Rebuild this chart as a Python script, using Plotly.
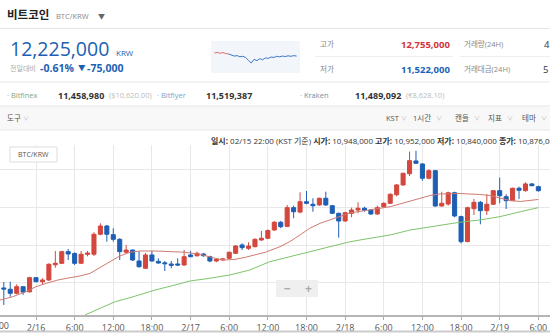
import plotly.graph_objects as go

W, H = 550, 333
FONT = "Open Sans, Noto Sans CJK KR, sans-serif"
RED = "#d4473d"
BLUE = "#1d5fb4"

# ---------------- data ----------------
# hourly candles, hour offset from 2/16 00:00 (KST)
hours = list(range(-5, 79))
opens = [10931000, 10914000, 10860000, 10948000, 10880000, 11068000, 11015000, 11037000, 11240000, 11259000,
         11414000, 11390000, 11260000, 11378000, 11380000, 11645000, 11755000, 11640000, 11578000, 11406000,
         11436000, 11290000, 11193000, 11370000, 11285000, 11265000, 11250000, 11250000, 11237000, 11370000,
         11360000, 11383000, 11347000, 11290000, 11303000, 11326000, 11392000, 11503000, 11458000, 11480000,
         11569000, 11592000, 11702000, 11805000, 11750000, 11999000, 11940000, 12078000, 12044000, 12035000,
         12124000, 12025000, 11924000, 11822000, 11924000, 11968000, 11991000, 11968000, 11915000, 12012000,
         12057000, 12170000, 12301000, 12450000, 12620000, 12580000, 12390000, 12491000, 12021000, 12048000,
         12198000, 11880000, 11547000, 11985000, 12070000, 11959000, 12044000, 12225000, 12145000, 12092000,
         12257000, 12225000, 12314000, 12278000]
highs = [11011000, 11015000, 10980000, 10952000, 11081000, 11075000, 11060000, 11259000, 11423000, 11425000,
         11449000, 11405000, 11423000, 11423000, 11672000, 11791000, 11769000, 11725000, 11592000, 11503000,
         11440000, 11414000, 11396000, 11423000, 11326000, 11290000, 11290000, 11326000, 11436000, 11423000,
         11414000, 11396000, 11360000, 11326000, 11326000, 11414000, 11503000, 11525000, 11539000, 11592000,
         11689000, 11709000, 11822000, 11822000, 12035000, 12025000, 12203000, 12221000, 12124000, 12132000,
         12211000, 12035000, 11932000, 11945000, 11999000, 12070000, 12012000, 11977000, 12025000, 12070000,
         12190000, 12314000, 12464000, 12745000, 12755000, 12589000, 12509000, 12500000, 12211000, 12211000,
         12211000, 11892000, 12012000, 12114000, 12088000, 12177000, 12234000, 12398000, 12177000, 12265000,
         12278000, 12336000, 12327000, 12291000]
lows = [10705000, 10815000, 10847000, 10840000, 10870000, 11007000, 10980000, 11025000, 11201000, 11250000,
        11303000, 11237000, 11250000, 11352000, 11355000, 11632000, 11547000, 11547000, 11303000, 11392000,
        11290000, 11201000, 11183000, 11281000, 11254000, 11157000, 11193000, 11227000, 11227000, 11339000,
        11347000, 11347000, 11273000, 11273000, 11294000, 11316000, 11383000, 11436000, 11436000, 11472000,
        11560000, 11580000, 11689000, 11725000, 11740000, 11858000, 11924000, 12044000, 11945000, 12025000,
        12025000, 11915000, 11600000, 11812000, 11871000, 11924000, 11945000, 11902000, 11902000, 11999000,
        12048000, 12150000, 12290000, 12420000, 12580000, 12358000, 12376000, 12012000, 12012000, 12025000,
        11871000, 11522000, 11540000, 11902000, 11778000, 11902000, 12035000, 12057000, 11981000, 12092000,
        12114000, 12211000, 12283000, 12211000]
closes = [10917000, 10860000, 10948000, 10876000, 11068000, 11015000, 11037000, 11246000, 11259000, 11414000,
          11383000, 11259000, 11379000, 11395000, 11645000, 11755000, 11645000, 11578000, 11414000, 11436000,
          11303000, 11214000, 11370000, 11290000, 11263000, 11254000, 11233000, 11237000, 11347000, 11347000,
          11392000, 11360000, 11290000, 11312000, 11316000, 11406000, 11489000, 11467000, 11489000, 11578000,
          11592000, 11695000, 11805000, 11746000, 11999000, 11945000, 12078000, 12057000, 12025000, 12124000,
          12035000, 11924000, 11822000, 11932000, 11968000, 11991000, 11964000, 11915000, 11999000, 12057000,
          12177000, 12301000, 12456000, 12624000, 12589000, 12390000, 12491000, 12021000, 12057000, 12198000,
          11888000, 11547000, 11999000, 12070000, 11959000, 12044000, 12225000, 12158000, 12092000, 12257000,
          12230000, 12314000, 12291000, 12225000]

# moving averages (hour offset, value)
ma_short_h = [-5.6, -3.6, -1.6, 0, 1.6, 3.4, 5.3, 6.8, 8.4, 9.9, 11.5, 13.0, 14.6, 16.3, 18.5, 20.8, 23.1,
              25.5, 27.8, 29.4, 30.9, 32.5, 34.0, 35.6, 37.9, 39.4, 41.0, 42.5, 44.1, 45.7, 47.2, 48.8, 50.3,
              51.9, 53.4, 55.0, 56.5, 58.1, 59.6, 61.2, 62.7, 65.8, 68.9, 70.5, 72.0, 73.6, 75.2, 76.7, 78.0]
ma_short_v = [10771000, 10815000, 10882000, 10948000, 10993000, 11037000, 11068000, 11090000, 11126000,
              11201000, 11281000, 11356000, 11406000, 11423000, 11423000, 11414000, 11406000, 11379000,
              11326000, 11303000, 11312000, 11339000, 11370000, 11406000, 11480000, 11547000, 11636000,
              11725000, 11791000, 11840000, 11890000, 11930000, 11950000, 11968000, 11991000, 12012000,
              12048000, 12088000, 12128000, 12161000, 12181000, 12187000, 12174000, 12161000, 12128000,
              12094000, 12081000, 12094000, 12108000]
ma_long_h = [7.6, 9.9, 12.3, 14.6, 18.5, 21.6, 23.9, 27.0, 30.1, 33.2, 36.3, 39.4, 42.5, 45.7, 48.8, 51.9,
             55.0, 58.1, 62.7, 65.8, 68.9, 72.0, 75.2, 78.0]
ma_long_v = [10572000, 10661000, 10749000, 10802000, 10904000, 10971000, 11024000, 11060000, 11104000,
             11170000, 11281000, 11347000, 11414000, 11480000, 11547000, 11592000, 11636000, 11702000,
             11769000, 11805000, 11835000, 11879000, 11945000, 11999000]

tick_hours = [0, 6, 12, 18, 24, 30, 36, 42, 48, 54, 60, 66, 72, 78]
tick_labels = ["2/16", "6:00", "12:00", "18:00", "2/17", "6:00", "12:00", "18:00",
               "2/18", "6:00", "12:00", "18:00", "2/19", "6:00"]

spark = [12335, 12350, 12330, 12345, 12325, 12315, 12290, 12270, 12280, 12255, 12265, 12240, 12180, 12120,
         12200, 12170, 12215, 12190, 12230, 12220, 12250, 12240, 12265, 12255, 12270, 12260, 12275, 12265,
         12280, 12270]
prev_close_k = 12300

price = "12,225,000"
change_pct = "-0.61%"
change_abs = "-75,000"
high24 = "12,755,000"
low24 = "11,522,000"
exchanges = [("Bitfinex", "11,458,980", "($10,620.00)", "#86a676"),
             ("Bitflyer", "11,519,387", "", "#7fa2c4"),
             ("Kraken", "11,489,092", "(€8,628.10)", "#6d8fab")]
tools_right = ["KST", "1시간", "캔들", "지표", "테마"]

# ---------------- geometry ----------------
X0, X1 = -5.59, 79.81
Y0, Y1 = 10571800, 12832000
PT, PB = 145, 315


def px(x):
    return x / W


def py(y):
    return 1 - y / H


fig = go.Figure()

fig.add_trace(go.Scatter(x=ma_long_h, y=ma_long_v, mode="lines", line=dict(color="#7dc46b", width=1),
                         hoverinfo="skip", showlegend=False))
fig.add_trace(go.Scatter(x=ma_short_h, y=ma_short_v, mode="lines", line=dict(color="#cf7b72", width=1),
                         hoverinfo="skip", showlegend=False))
fig.add_trace(go.Candlestick(
    x=hours, open=opens, high=highs, low=lows, close=closes,
    increasing=dict(line=dict(color=RED, width=1), fillcolor=RED),
    decreasing=dict(line=dict(color=BLUE, width=1), fillcolor=BLUE),
    whiskerwidth=0, hoverinfo="skip", showlegend=False))

# sparkline
split = next(i for i, v in enumerate(spark) if v < prev_close_k)
fig.add_trace(go.Scatter(x=list(range(split)), y=spark[:split], mode="lines", xaxis="x2", yaxis="y2",
                         line=dict(color="#e06a66", width=1), hoverinfo="skip", showlegend=False))
fig.add_trace(go.Scatter(x=list(range(split - 1, len(spark))), y=spark[split - 1:], mode="lines",
                         xaxis="x2", yaxis="y2", line=dict(color="#3d78c8", width=1),
                         hoverinfo="skip", showlegend=False))

ann = []


def txt(x, y, s, size, color, anchor="left", bold=False):
    if bold:
        s = "<b>" + s + "</b>"
    ann.append(dict(x=px(x), y=py(y), xref="paper", yref="paper", text=s, showarrow=False,
                    xanchor=anchor, yanchor="middle", font=dict(family=FONT, size=size, color=color)))


# header
txt(5, 15, "비트코인", 11.5, "#222", bold=True)
txt(54, 16, "BTC/KRW", 7.5, "#888")
txt(96, 16, "▼", 7, "#666")
txt(8, 48.5, price, 19.5, BLUE)
txt(114, 52, "KRW", 8, BLUE)
txt(8, 68, "전일대비", 7, "#aaa")
txt(38, 68, change_pct, 10.5, BLUE, bold=True)
txt(76, 68, "▼", 7.5, BLUE)
txt(85, 68, change_abs, 10.5, BLUE, bold=True)

txt(318, 44, "고가", 7.5, "#888")
txt(452, 44, high24, 9.5, "#d2343c", anchor="right", bold=True)
txt(462, 44, "거래량(24H)", 7.5, "#888")
txt(542, 44, "4", 9.5, "#333")
txt(318, 69, "저가", 7.5, "#888")
txt(452, 69, low24, 9.5, BLUE, anchor="right", bold=True)
txt(462, 69, "거래대금(24H)", 7.5, "#888")
txt(541, 69, "5", 9.5, "#333")

# exchange row
ex_x = [(5, 56, 107), (155, 204, None), (298, 353, 404)]
for (name, val, sub, col), (xn, xv, xs) in zip(exchanges, ex_x):
    txt(xn, 95, "· " + name, 7.5, col)
    txt(xv, 95, val, 9, "#333", bold=True)
    if sub and xs is not None:
        txt(xs, 95, sub, 7.5, "#bbb")

# toolbar
txt(5, 118, "도구", 7.5, "#555")
txt(21, 118, "∨", 6, "#bbb")
tool_x = [384, 411, 453, 486, 520]
tool_w = [15, 23, 19, 19, 19]
for t, x, w in zip(tools_right, tool_x, tool_w):
    txt(x, 118, t, 7.5, "#555")
    txt(x + w, 118, "∨", 6, "#bbb")

# hover info line (candle 02/15 22:00)
i_h = hours.index(-2)
info = ("<b>일시:</b> 02/15 22:00 (KST 기준) <b>시가:</b> {:,} <b>고가:</b> {:,} "
        "<b>저가:</b> {:,} <b>종가:</b> {:,}").format(opens[i_h], highs[i_h], lows[i_h], closes[i_h])
txt(209, 140.5, info, 8.0, "#333")

# badge and zoom buttons
txt(33.5, 154.5, "BTC/KRW", 7, "#555", anchor="center")
txt(287, 288.5, "−", 12, "#aaa", anchor="center", bold=True)
txt(308, 288.5, "+", 12, "#aaa", anchor="center", bold=True)

# clipped tick label at the left edge (2/15 18:00)
ann.append(dict(x=(-6 - X0) / (X1 - X0), y=py(325), xref="paper", yref="paper", text="18:00",
                showarrow=False, xanchor="center", yanchor="middle",
                font=dict(family=FONT, size=9, color="#555")))

shapes = []


def hline(y, xa, xb, color="#e6e6e6", w=1):
    shapes.append(dict(type="line", xref="paper", yref="paper", x0=px(xa), x1=px(xb), y0=py(y), y1=py(y),
                       line=dict(color=color, width=w)))


def rect(xa, ya, xb, yb, fill, line=None, layer="below"):
    shapes.append(dict(type="rect", xref="paper", yref="paper", x0=px(xa), x1=px(xb), y0=py(yb), y1=py(ya),
                       fillcolor=fill, line=dict(color=line or fill, width=1 if line else 0), layer=layer))


rect(0, 106, 550, 130, "#f8f8f8")
rect(211, 41, 300, 73, "#f2f5f9")
hline(28.5, 0, 550)
hline(56.5, 315, 453, "#eeeeee")
hline(56.5, 460, 550, "#eeeeee")
hline(82, 0, 550)
hline(106, 0, 550)
hline(130, 0, 550)
hline(331.5, 0, 550, "#cccccc", 2)
rect(10, 147, 57, 162, "white", "#dddddd", layer="above")
rect(276, 280, 318, 297, "#efefef", layer="above")

fig.update_layout(
    width=W, height=H, margin=dict(l=0, r=0, t=0, b=0),
    paper_bgcolor="white", plot_bgcolor="white", showlegend=False,
    boxgap=0.3, boxgroupgap=0.1,
    annotations=ann, shapes=shapes,
    xaxis=dict(domain=[0, 1], range=[X0, X1], tickvals=tick_hours, ticktext=tick_labels,
               showgrid=True, gridcolor="#e8e8e8", gridwidth=1, ticks="outside", ticklen=3,
               tickcolor="#aaaaaa", showline=True, linecolor="#b5b5b5", linewidth=2,
               tickfont=dict(family=FONT, size=9, color="#555"), rangeslider=dict(visible=False),
               zeroline=False, fixedrange=True),
    yaxis=dict(domain=[py(PB), py(PT)], range=[Y0, Y1], tick0=0, dtick=500000, showticklabels=False,
               showgrid=True, gridcolor="#e8e8e8", zeroline=False, fixedrange=True),
    xaxis2=dict(domain=[px(213), px(298)], anchor="y2", visible=False, range=[-0.5, len(spark) - 0.5]),
    yaxis2=dict(domain=[py(70), py(44)], anchor="x2", visible=False, range=[11970, 12530]),
)

fig.write_html("out.html", config={"displayModeBar": False})
